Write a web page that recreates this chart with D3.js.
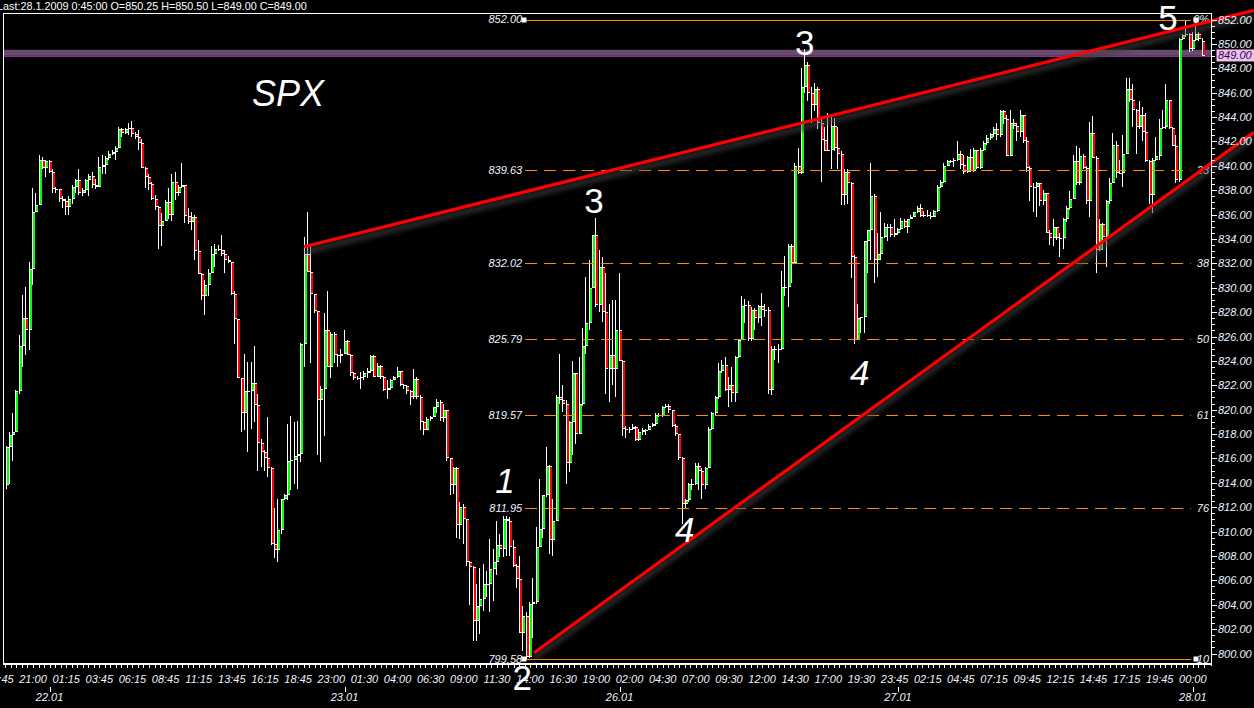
<!DOCTYPE html>
<html><head><meta charset="utf-8">
<script src="https://cdn.jsdelivr.net/npm/d3@7"></script>
<style>html,body{margin:0;padding:0;background:#000;overflow:hidden}svg{display:block}</style>
</head><body>
<svg id="chart" width="1254" height="708"></svg>
<script>
// ---------------- DATA ----------------
const closes = [
816.9,817.9,818.2,821.5,825.2,827.5,826.5,831.5,836.25,836.8,
840.5,839.8,840.4,839.5,838.1,838.1,837.3,837.1,836.6,837.3,
838.3,838.8,837.8,838.0,838.8,839.2,838.4,838.3,839.9,840.1,
840.6,841.0,841.1,841.5,843.0,842.7,843.0,843.1,842.6,842.4,
841.9,839.8,839.1,838.5,837.3,836.6,835.1,835.5,837.0,836.0,
838.7,837.8,838.3,838.4,835.9,835.4,835.8,833.0,831.1,829.3,
830.2,831.2,832.8,833.2,833.1,832.8,832.3,832.1,829.5,827.4,
822.6,819.7,821.5,821.5,822.2,820.4,817.3,816.5,816.0,815.2,
809.0,808.5,810.1,812.7,813.0,815.8,815.9,816.2,816.4,825.4,
832.8,831.3,829.5,828.1,820.8,821.7,826.5,823.5,826.2,824.5,
824.4,824.6,825.6,824.5,823.0,822.6,822.6,822.7,823.0,823.2,
824.4,822.7,823.6,822.7,821.6,821.8,822.4,822.7,823.2,822.0,
821.9,821.5,821.0,822.5,821.0,819.0,818.3,819.2,819.4,820.2,
820.6,819.3,820.0,816.0,813.8,815.2,810.5,812.0,811.0,807.5,
807.1,802.7,803.9,804.5,805.7,805.7,806.9,807.5,808.9,808.6,
811.0,810.9,808.7,807.2,806.1,801.7,803.1,799.7,804.1,804.2,
808.7,810.2,813.0,815.4,809.3,810.9,821.0,820.8,820.5,815.6,
819.0,823.0,818.0,820.5,825.2,827.1,830.0,834.3,828.6,831.7,
828.0,823.3,824.5,823.3,826.5,824.0,818.4,818.3,818.4,818.6,
817.5,818.2,818.3,818.3,818.7,818.8,819.6,819.5,820.2,820.3,
820.0,818.7,818.0,816.0,812.3,812.6,813.9,813.9,815.4,815.0,
813.8,815.2,818.4,819.7,821.0,823.2,823.7,821.6,822.0,821.4,
824.3,825.7,828.5,828.6,825.8,828.2,827.5,828.5,828.2,828.2,
821.6,825.0,825.0,825.0,830.1,830.1,833.4,832.0,840.0,839.4,
846.5,848.3,846.0,845.0,846.3,843.5,842.1,841.2,841.3,843.3,
841.5,841.0,837.6,839.5,838.6,832.5,825.7,827.5,827.6,833.8,
834.7,837.5,832.3,832.8,834.2,835.0,835.0,834.3,834.5,834.8,
835.5,835.0,835.6,835.8,836.2,836.5,835.9,836.0,835.9,835.8,
836.3,838.3,838.7,840.0,840.4,840.4,840.5,841.0,840.1,839.5,
840.7,839.6,841.3,839.8,841.3,841.9,842.3,842.6,843.0,842.5,
844.5,843.8,840.8,843.5,843.3,842.8,844.2,842.0,839.8,838.3,
838.3,838.6,837.1,837.8,834.5,834.1,835.0,834.1,834.1,835.6,
836.5,837.3,840.4,838.6,840.8,839.8,837.1,842.7,840.6,833.1,
835.2,834.2,837.1,838.6,841.7,839.4,839.4,841.0,846.3,845.4,
844.6,843.2,844.2,842.8,840.4,837.6,840.5,840.8,843.1,843.2,
845.4,843.1,841.6,838.8,850.4,850.7,850.8,849.6,850.3,850.8,
850.4,849.0];

const highs = [
817.0,818.2,819.7,821.6,826.1,829.4,830.1,832.1,838.2,837.8,
840.9,840.7,840.5,840.5,839.7,838.3,838.1,837.5,837.3,837.5,
838.4,838.9,839.7,838.2,838.9,839.3,839.5,838.9,840.7,840.9,
840.8,841.2,841.3,841.6,843.2,843.1,843.1,843.5,843.7,842.8,
842.9,842.2,839.9,839.3,838.7,837.6,836.7,836.1,837.2,838.2,
839.3,839.5,838.4,840.2,838.4,836.5,836.2,836.0,833.9,831.2,
830.6,831.5,833.4,833.6,833.5,834.3,833.1,832.6,832.1,829.7,
827.4,822.5,824.6,823.9,823.9,825.2,821.3,817.6,816.7,819.4,
815.3,811.9,812.7,812.7,813.1,818.8,819.5,819.0,819.1,825.5,
834.2,836.2,833.4,829.5,828.0,821.9,827.9,829.7,826.4,826.4,
824.6,825.0,826.5,825.7,824.6,823.1,822.8,823.1,823.2,823.4,
824.5,824.5,823.8,823.7,822.8,822.4,822.5,822.8,823.5,823.2,
822.1,822.0,821.6,823.3,822.7,821.2,819.1,819.4,819.5,820.2,
820.9,820.8,820.5,819.8,816.0,815.3,815.3,812.4,812.3,810.7,
807.6,807.2,805.7,807.0,807.3,806.8,809.4,808.6,810.9,809.8,
811.3,811.3,811.2,809.3,807.3,808.0,803.9,803.4,804.2,806.2,
810.4,814.3,813.0,816.9,815.5,812.7,821.2,824.6,822.0,820.8,
819.1,824.0,823.0,824.3,826.7,830.9,832.3,834.3,835.7,833.1,
832.5,831.2,828.7,829.0,829.0,831.2,824.1,818.7,818.6,818.8,
818.7,818.4,818.5,818.4,818.8,818.9,819.7,819.7,820.3,820.5,
820.5,820.0,818.8,818.0,816.1,812.7,814.0,814.3,815.6,815.6,
815.2,815.3,818.6,819.8,821.1,823.8,824.1,824.3,822.7,823.5,
824.4,825.8,829.3,829.1,828.9,828.4,828.3,828.6,829.6,828.7,
828.4,825.2,825.2,825.4,831.4,832.6,833.6,833.6,840.2,841.5,
848.0,849.6,848.5,846.5,846.8,846.5,843.9,843.2,844.3,844.2,
843.9,843.2,841.2,839.7,839.7,838.7,832.7,828.7,827.6,833.8,
834.7,840.2,837.7,834.5,836.2,835.3,835.2,835.2,835.6,834.9,
835.7,835.6,835.6,836.0,836.2,836.7,836.9,836.3,836.4,836.2,
836.4,838.4,838.8,840.2,840.5,840.5,840.6,842.0,841.2,840.9,
840.8,841.4,841.5,841.3,841.5,842.0,842.5,842.7,843.2,843.5,
844.6,844.6,844.2,844.6,843.8,843.5,844.6,844.2,842.4,840.0,
838.6,838.7,838.6,838.0,837.8,834.7,835.6,835.0,834.5,835.7,
836.7,837.9,840.9,841.6,841.5,841.0,840.0,843.6,844.1,840.8,
835.6,835.3,837.2,839.0,842.7,842.0,840.5,842.5,847.2,847.2,
846.7,844.7,845.3,844.8,844.3,840.5,840.6,842.4,843.8,844.6,
846.7,845.4,843.2,842.5,850.5,850.8,852.0,850.9,851.0,852.0,
851.0,850.5];

const lows = [
813.5,813.9,815.8,818.2,821.3,823.5,824.5,824.9,830.2,836.2,
836.8,839.7,839.1,839.4,837.8,837.8,837.0,836.5,836.0,836.0,
836.9,837.8,837.6,837.5,837.8,837.5,838.2,838.1,838.4,839.3,
839.3,840.5,840.9,840.5,841.5,842.4,842.6,842.5,842.4,842.2,
841.3,839.8,838.2,838.0,837.2,836.4,833.2,833.4,835.5,835.6,
835.5,837.2,837.5,838.2,835.3,835.2,834.7,832.3,831.1,829.0,
827.8,829.3,831.2,831.7,833.0,832.6,831.2,832.0,829.4,825.4,
822.6,818.2,818.3,816.5,818.4,819.0,815.0,815.3,815.0,814.5,
808.9,807.8,807.5,809.8,812.6,812.6,813.4,813.9,813.5,815.7,
823.5,831.3,823.8,827.9,816.3,815.7,817.8,823.5,822.6,823.8,
823.5,823.8,824.6,824.5,822.8,822.4,822.4,821.7,822.4,822.6,
823.0,822.7,822.7,822.5,821.5,820.9,821.6,822.4,822.6,821.9,
821.7,821.3,820.4,820.9,820.9,818.3,817.9,818.3,819.1,819.4,
819.7,819.1,819.0,815.8,813.0,813.1,809.5,809.4,809.0,807.2,
804.0,801.0,801.0,801.6,803.5,804.6,803.4,804.3,806.4,807.9,
807.9,808.0,808.0,807.1,805.4,801.7,800.2,799.58,799.6,801.3,
804.1,808.7,809.5,812.8,808.2,808.0,810.9,820.5,819.8,813.9,
814.9,816.3,817.2,818.0,820.3,824.6,826.5,830.0,828.4,828.0,
827.2,821.3,820.6,822.0,821.0,824.0,817.8,817.7,818.1,818.3,
817.4,817.4,817.9,817.9,818.3,818.6,818.7,819.4,819.4,820.1,
819.7,818.6,817.8,815.9,810.6,811.9,812.4,813.4,813.8,813.4,
812.7,813.5,815.2,818.3,819.5,820.9,823.0,821.5,820.2,820.6,
820.6,824.2,825.7,827.1,825.6,825.6,826.5,827.1,826.9,827.6,
821.3,821.2,824.1,823.8,824.9,829.3,828.4,830.4,832.0,839.3,
839.3,846.0,845.3,843.5,844.5,843.0,838.7,841.2,841.2,839.7,
841.2,839.7,836.8,836.8,836.9,830.8,825.4,825.7,826.3,826.3,
831.2,832.3,830.4,830.9,832.3,834.1,833.8,834.2,834.2,834.3,
834.7,834.9,834.5,835.6,835.8,836.1,835.8,835.8,835.8,835.6,
835.8,836.2,838.2,838.6,840.0,840.2,839.9,840.4,839.7,839.3,
839.4,839.5,839.5,839.7,839.7,841.2,841.7,842.1,842.4,842.1,
842.4,843.4,840.8,840.8,843.0,842.0,842.4,841.9,839.5,837.1,
836.2,835.8,836.7,836.8,834.5,833.5,833.4,833.9,832.5,833.2,
835.4,836.4,837.3,838.4,838.4,839.7,836.9,835.8,840.6,831.2,
833.0,833.1,831.7,836.9,838.6,839.0,839.3,838.3,841.0,845.2,
843.2,841.0,843.0,842.0,840.3,836.9,836.1,840.4,840.5,843.0,
843.0,843.0,841.6,838.6,838.7,850.3,850.6,849.3,849.4,850.2,
850.2,849.0];

const firstOpen = 813.8;     // open of the first bar
const lastOpen = 850.25;     // open of the last bar (header)
const lastPrice = 849.00;

const timeLabels = ["18:45","21:00","01:15","03:45","06:15","08:45","11:15","13:45","16:15","18:45",
  "23:00","01:30","04:00","06:30","09:00","11:30","14:00","16:30","19:00","02:00","04:30","07:00",
  "09:30","12:00","14:30","17:00","19:30","23:45","02:15","04:45","07:15","09:45","12:15","14:45",
  "17:15","19:45","00:00"];
const dayLabels = ["22.01","23.01","26.01","27.01","28.01"];
const dayBars = [13, 102, 185, 269, 358];

const fibLevels = [852.00, 839.63, 832.02, 825.79, 819.57, 811.95, 799.58];
const fibTags = ["0%", "23", "38", "50", "61", "76", "10"];

const waveTexts = ["1","2","3","4","3","4","5"];
const waveBars = [150.4, 155.6, 177.3, 204.7, 240.9, 257.5, 350.5];
const wavePrices = [813.16, 797.0, 836.13, 809.14, 849.09, 822.02, 851.14];
const waveItalic = [true, false, false, true, false, true, false];

const trendStartBars = [89.8, 159.2];
const trendStartPrices = [833.36, 800.06];
const trendEndBars = [376.4, 376.4];
const trendEndPrices = [852.75, 842.74];

const headerText = "Last:28.1.2009 0:45:00 O=850.25 H=850.50 L=849.00 C=849.00";
const titleText = "SPX";

// ---------------- CHART ----------------
const n = closes.length;
const opens = closes.map((c, i) => i === 0 ? firstOpen : (i === n - 1 ? lastOpen : closes[i - 1]));

const svg = d3.select("#chart");
const x = d3.scaleLinear().domain([0, n - 1]).range([6.5, 1202.8]);
const y = d3.scaleLinear().domain([800, 852]).range([653.5, 19.5]);

const plotL = 3, plotR = 1211, plotT = 13, plotB = 664;
const axisFont = "'Liberation Sans', Arial, sans-serif";
const textCol = "#eef3ff";

svg.append("rect").attr("width", 1254).attr("height", 708).attr("fill", "#000");

const defs = svg.append("defs");
defs.append("filter").attr("id", "blur").attr("x", "-5%").attr("y", "-50%").attr("width", "110%").attr("height", "200%")
  .append("feGaussianBlur").attr("stdDeviation", 2.5);
defs.append("clipPath").attr("id", "plotclip").append("rect")
  .attr("x", plotL).attr("y", plotT).attr("width", plotR - plotL).attr("height", plotB - plotT);

// last price band
svg.append("rect").attr("x", plotL).attr("width", plotR - plotL)
  .attr("y", y(lastPrice) - 6.3).attr("height", 6).attr("fill", "#6a4a70");
svg.append("line").attr("x1", plotL).attr("x2", plotR).attr("y1", y(lastPrice) + 0.2).attr("y2", y(lastPrice) + 0.2)
  .attr("stroke", "#86358a").attr("stroke-width", 1.3);

// candles
const cg = svg.append("g").attr("shape-rendering", "crispEdges").attr("clip-path", "url(#plotclip)");
d3.range(n).forEach(i => {
  const o = opens[i], c = closes[i];
  const hi = Math.max(highs[i], o, c), lo = Math.min(lows[i], o, c);
  const cx = Math.round(x(i));
  const yT = Math.round(y(hi)), yB = Math.round(y(lo));
  cg.append("rect").attr("x", cx - 1).attr("y", yT).attr("width", 1).attr("height", Math.max(1, yB - yT)).attr("fill", "#fff");
  const bT = Math.round(y(Math.max(o, c))), bB = Math.round(y(Math.min(o, c)));
  const bh = Math.max(1, bB - bT);
  cg.append("rect").attr("x", cx - 1).attr("y", bT).attr("width", 3).attr("height", bh).attr("fill", "#fff");
  if (bh > 2) {
    cg.append("rect").attr("x", cx).attr("y", bT + 1).attr("width", 2).attr("height", bh - 2)
      .attr("fill", c >= o ? "#00ff00" : "#ff0000");
  }
});

// fibonacci levels
const fibStartBar = 156.5, fibEndBar = 357.4, fibLabelBar = 155.6, fibTagBar = 362.9, fibSquareL = 156.2, fibSquareR = 358.8;
const fg = svg.append("g");
fibLevels.forEach((lv, k) => {
  const solid = (k === 0 || k === fibLevels.length - 1);
  fg.append("line").attr("x1", x(fibStartBar)).attr("x2", x(fibEndBar)).attr("y1", Math.round(y(lv)) + 0.5).attr("y2", Math.round(y(lv)) + 0.5)
    .attr("stroke", "#ff8a00").attr("stroke-width", 1).attr("stroke-dasharray", solid ? null : "12,7");
  fg.append("text").attr("x", x(fibLabelBar)).attr("y", y(lv)).attr("dy", "0.36em").attr("text-anchor", "end")
    .attr("font-family", axisFont).attr("font-style", "italic").attr("font-size", 11).attr("fill", textCol)
    .text(lv.toFixed(2));
  fg.append("text").attr("x", x(fibTagBar)).attr("y", y(lv)).attr("dy", "0.36em").attr("text-anchor", "end")
    .attr("font-family", axisFont).attr("font-style", "italic").attr("font-size", 11).attr("fill", textCol)
    .text(fibTags[k]);
  if (solid) {
    [fibSquareL, fibSquareR].forEach(b => {
      fg.append("rect").attr("x", Math.round(x(b)) - 2.5).attr("y", Math.round(y(lv)) - 2.5).attr("width", 5).attr("height", 5).attr("fill", "#fff");
    });
  }
});

// trend lines
const tg = svg.append("g");
trendStartBars.forEach((b0, k) => {
  tg.append("line").attr("x1", x(b0)).attr("y1", y(trendStartPrices[k]) + 5).attr("x2", x(trendEndBars[k])).attr("y2", y(trendEndPrices[k]) + 5)
    .attr("stroke", "#3c3c3c").attr("stroke-width", 6).attr("opacity", 0.7).attr("filter", "url(#blur)");
});
trendStartBars.forEach((b0, k) => {
  tg.append("line").attr("x1", x(b0)).attr("y1", y(trendStartPrices[k])).attr("x2", x(trendEndBars[k])).attr("y2", y(trendEndPrices[k]))
    .attr("stroke", "#ff0000").attr("stroke-width", 3.2);
});

// frame
const fr = svg.append("g").attr("shape-rendering", "crispEdges");
fr.append("line").attr("x1", plotL).attr("x2", plotR).attr("y1", plotT + 0.5).attr("y2", plotT + 0.5).attr("stroke", "#fff");
fr.append("line").attr("x1", plotL + 0.5).attr("x2", plotL + 0.5).attr("y1", plotT).attr("y2", plotB).attr("stroke", "#fff");
fr.append("line").attr("x1", plotL).attr("x2", plotR + 1).attr("y1", plotB).attr("y2", plotB).attr("stroke", "#fff").attr("stroke-width", 2);
fr.append("line").attr("x1", plotR + 0.5).attr("x2", plotR + 0.5).attr("y1", plotT).attr("y2", plotB + 2).attr("stroke", "#fff").attr("stroke-width", 1.6);

// right price axis
const yAxis = d3.axisRight(y).tickValues(d3.range(800, 852.01, 2)).tickSize(5).tickFormat(d => d.toFixed(2));
const yg = svg.append("g").attr("transform", `translate(${plotR + 1},0)`).call(yAxis);
yg.select(".domain").remove();
yg.selectAll(".tick line").attr("stroke", "#fff").attr("shape-rendering", "crispEdges");
yg.selectAll(".tick text").attr("x", 6).attr("fill", textCol).attr("font-family", axisFont)
  .attr("font-style", "italic").attr("font-size", 11);
const yMinor = d3.axisRight(y).tickValues(d3.range(800, 852.01, 0.5)).tickSize(2.5).tickFormat("");
const ym = svg.append("g").attr("transform", `translate(${plotR + 1},0)`).call(yMinor);
ym.select(".domain").remove();
ym.selectAll(".tick line").attr("stroke", "#fff").attr("shape-rendering", "crispEdges");

// bottom time axis
const labelBars = timeLabels.map((t, k) => -2 + 10 * k);
const bg = svg.append("g");
d3.range(-2, n, 10 / 6).forEach(b => {
  const xx = Math.round(x(b)) + 0.5;
  if (xx > plotL && xx < plotR) bg.append("line").attr("x1", xx).attr("x2", xx).attr("y1", plotB + 1).attr("y2", plotB + 4)
    .attr("stroke", "#fff").attr("shape-rendering", "crispEdges");
});
timeLabels.forEach((t, k) => {
  bg.append("text").attr("x", x(labelBars[k])).attr("y", 683).attr("text-anchor", "middle")
    .attr("font-family", axisFont).attr("font-style", "italic").attr("font-size", 11).attr("fill", textCol).text(t);
});
dayLabels.forEach((t, k) => {
  const xx = Math.round(x(dayBars[k])) + 0.5;
  bg.append("line").attr("x1", xx).attr("x2", xx).attr("y1", 686.5).attr("y2", 691.5).attr("stroke", "#fff").attr("shape-rendering", "crispEdges");
  bg.append("text").attr("x", x(dayBars[k])).attr("y", 700.5).attr("text-anchor", "middle")
    .attr("font-family", axisFont).attr("font-style", "italic").attr("font-size", 11).attr("fill", textCol).text(t);
});

// last price tag
svg.append("rect").attr("x", 1216.5).attr("y", y(lastPrice) - 6.6).attr("width", 38).attr("height", 12).attr("fill", "#f4bef4");
svg.append("text").attr("x", 1218).attr("y", y(lastPrice) - 0.6).attr("dy", "0.36em")
  .attr("font-family", axisFont).attr("font-style", "italic").attr("font-size", 11).attr("fill", "#1a1040").text(lastPrice.toFixed(2));

// wave labels
waveTexts.forEach((t, k) => {
  svg.append("text").attr("x", x(waveBars[k])).attr("y", y(wavePrices[k])).attr("text-anchor", "middle")
    .attr("font-family", axisFont).attr("font-size", 35).attr("font-style", waveItalic[k] ? "italic" : "normal")
    .attr("fill", "#fff").text(t);
});
svg.append("text").attr("x", x(74.1)).attr("y", y(844.9)).attr("font-family", axisFont).attr("font-size", 36)
  .attr("font-style", "italic").attr("fill", "#fff").text(titleText);

// header
svg.append("text").attr("x", -3).attr("y", 9.5).attr("font-family", axisFont).attr("font-size", 10.8)
  .attr("fill", "#fff").text(headerText);
</script>
</body></html>
